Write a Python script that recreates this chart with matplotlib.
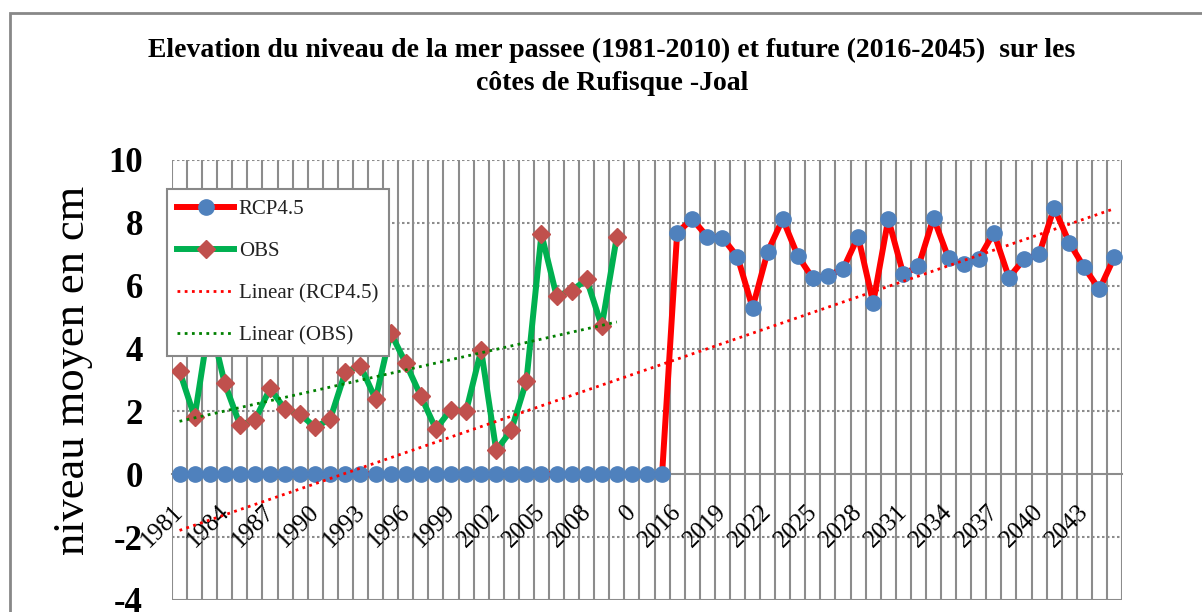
import matplotlib
matplotlib.use('Agg')
import matplotlib.pyplot as plt
import numpy as np
from matplotlib.patches import Rectangle
from matplotlib.lines import Line2D
from matplotlib.transforms import ScaledTranslation

plt.rcParams['font.family'] = ['Liberation Serif', 'DejaVu Serif']

# categories: observed years, three filler slots, projected years
categories = [str(y) for y in range(1981, 2011)] + ['0', '0', '0'] + [str(y) for y in range(2016, 2046)]

# observed sea level 1981-2010 (cm)
obs = [3.28, 1.82, 4.9, 2.89, 1.58, 1.72, 2.73, 2.07, 1.91, 1.49,
       1.77, 3.26, 3.45, 2.39, 4.5, 3.54, 2.49, 1.44, 2.06, 2.0,
       3.95, 0.76, 1.40, 2.96, 7.64, 5.68, 5.84, 6.2, 4.71, 7.56]

# RCP4.5 projection 2016-2045 (cm), zeros before
rcp_future = [7.69, 8.12, 7.56, 7.53, 6.92, 5.30, 7.08, 8.12, 6.95, 6.23,
              6.32, 6.53, 7.56, 5.46, 8.12, 6.36, 6.62, 8.16, 6.87, 6.68,
              6.85, 7.69, 6.26, 6.84, 7.0, 8.48, 7.37, 6.58, 5.88, 6.92]
rcp45 = [0.0] * 33 + rcp_future

fig = plt.figure(figsize=(12.02, 6.12), dpi=100)
ax = fig.add_axes([172/1202, 1 - 600/612, 950/1202, 440/612])

x_rcp = np.arange(len(rcp45))
x_obs = np.arange(len(obs))

ax.plot(x_rcp, rcp45, color='#ff0000', lw=4.3, marker='o', ms=11,
        mfc='#4f81bd', mec='#4f81bd', zorder=3)
ax.plot(x_obs, obs, color='#00b050', lw=4.3, marker='D', ms=9,
        mfc='#c0504d', mec='#c0504d', zorder=4)

# linear trends (Excel style, fitted on 1..n)
c1 = np.polyfit(x_rcp + 1, rcp45, 1)
ax.plot(x_rcp, np.polyval(c1, x_rcp + 1), color='#ff0000', lw=2,
        ls=(0, (1, 1.6)), zorder=5)
c2 = np.polyfit(x_obs + 1, obs, 1)
ax.plot(x_obs, np.polyval(c2, x_obs + 1), color='#008000', lw=2,
        ls=(0, (1, 1.6)), zorder=5)

ax.set_xlim(-0.5, len(categories) - 0.5)
ax.set_ylim(-4, 10)

# vertical grid at category boundaries
for b in np.arange(-0.5, len(categories), 1):
    ax.axvline(b, color='#8c8c8c', lw=1.5, zorder=1)
for yv in [-2, 2, 4, 6, 8, 10]:
    ax.axhline(yv, color='#8c8c8c', lw=1.5, ls=(0, (1.2, 1.2)), zorder=1)
ax.axhline(-4, color='#8c8c8c', lw=1.5, zorder=1)

for s in ['top', 'right', 'left']:
    ax.spines[s].set_visible(False)
ax.spines['bottom'].set_position(('data', 0))
ax.spines['bottom'].set_color('#8c8c8c')
ax.spines['bottom'].set_linewidth(1.5)
ax.spines['bottom'].set_zorder(2)

ax.set_xticks(range(0, len(categories), 3))
ax.set_xticklabels(categories[::3], fontsize=18, rotation=45, ha='right',
                   va='top', rotation_mode='anchor')
ax.tick_params(axis='x', length=0, pad=19)
off = ScaledTranslation(-5/72, 0, fig.dpi_scale_trans)
for lab in ax.get_xticklabels():
    lab.set_transform(lab.get_transform() + off)

ax.set_yticks(range(-4, 11, 2))
ax.set_yticklabels([str(v) for v in range(-4, 11, 2)], fontsize=25, fontweight='bold')
ax.tick_params(axis='y', length=0, pad=21)

fig.text(73/1202, 1 - 370/612, 'niveau moyen en cm', rotation=90,
         ha='center', va='center', fontsize=32)

fig.text(612/1202, 1 - 67/612,
         'Elevation du niveau de la mer passee (1981-2010) et future (2016-2045)  sur les\ncôtes de Rufisque -Joal',
         ha='center', va='center', fontsize=20, fontweight='bold', linespacing=1.38)

handles = [
    Line2D([], [], color='#ff0000', lw=4.3, marker='o', ms=11, mfc='#4f81bd', mec='#4f81bd'),
    Line2D([], [], color='#00b050', lw=4.3, marker='D', ms=9, mfc='#c0504d', mec='#c0504d'),
    Line2D([], [], color='#ff0000', lw=2, ls=(0, (1, 1.6))),
    Line2D([], [], color='#008000', lw=2, ls=(0, (1, 1.6))),
]
leg = fig.legend(handles, ['RCP4.5', 'OBS', 'Linear (RCP4.5)', 'Linear (OBS)'],
                 loc='upper left', bbox_to_anchor=(167/1202, 1 - 189/612),
                 borderaxespad=0, fontsize=15, labelspacing=1.08,
                 handlelength=2.7, handletextpad=0.25, fancybox=False,
                 framealpha=1, edgecolor='#888888', borderpad=0.5)
leg.get_frame().set_linewidth(1.5)
for t in leg.get_texts():
    t.set_color('#222222')

fig.patches.append(Rectangle((10/1202, -0.1), 1.2, 1.1 - 13/612,
                             transform=fig.transFigure, fill=False,
                             edgecolor='#888888', lw=2))

fig.savefig('out.png', dpi=100)
